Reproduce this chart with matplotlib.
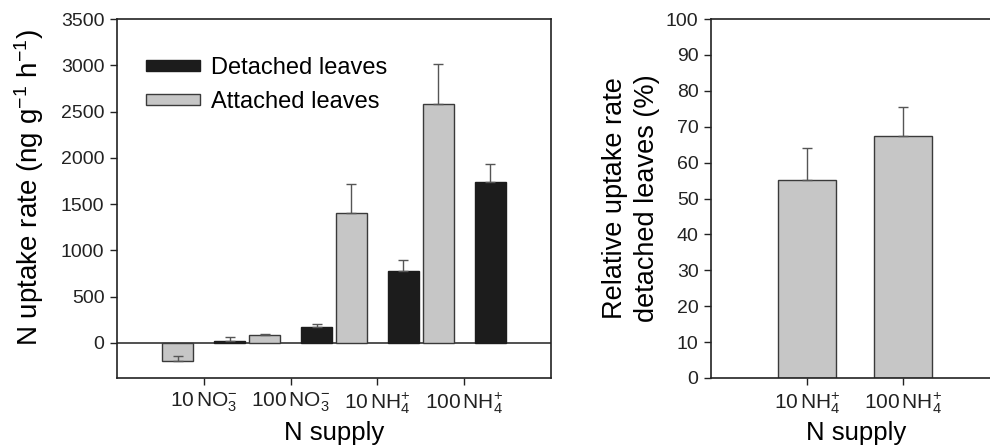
import matplotlib
matplotlib.use("Agg")
import matplotlib.pyplot as plt
from matplotlib.patches import Patch
import numpy as np

plt.rcParams['font.family'] = ['Liberation Sans', 'DejaVu Sans']
plt.rcParams['mathtext.fontset'] = 'custom'
plt.rcParams['mathtext.rm'] = 'Liberation Sans'
plt.rcParams['mathtext.it'] = 'Liberation Sans:italic'
plt.rcParams['mathtext.bf'] = 'Liberation Sans:bold'

# ---- data ----
left_categories = [r'$\mathrm{10\,NO_3^{-}}$', r'$\mathrm{100\,NO_3^{-}}$',
                   r'$\mathrm{10\,NH_4^{+}}$', r'$\mathrm{100\,NH_4^{+}}$']
detached = [25, 170, 775, 1740]
detached_err = [35, 30, 125, 195]
attached = [-200, 80, 1405, 2580]
attached_err = [55, 15, 310, 435]

right_categories = [r'$\mathrm{10\,NH_4^{+}}$', r'$\mathrm{100\,NH_4^{+}}$']
relative = [55.2, 67.5]
relative_err = [9.0, 8.0]

# ---- style ----
dark = '#1c1c1c'
grey_fill = '#c6c6c6'
edge = '#3a3a3a'
err_col = '#555555'
tick_fs = 14
label_fs = 20

W, H = 990, 445
fig = plt.figure(figsize=(W / 100, H / 100), dpi=100)

def px_axes(l, t, r, b):
    return [l / W, 1 - b / H, (r - l) / W, (b - t) / H]

def style_axes(ax):
    for s in ax.spines.values():
        s.set_linewidth(1.2)
        s.set_color('#222222')
    ax.tick_params(direction='out', length=5, width=1, colors='#222222',
                   labelsize=tick_fs, top=False, right=False, pad=4)
    ax.tick_params(axis='x', labelsize=15)

# ---- left panel ----
ax1 = fig.add_axes(px_axes(117, 19, 551, 378))
style_axes(ax1)
x = np.arange(1, len(left_categories) + 1)
bw = 0.36
ax1.axhline(0, color='#222222', lw=1.1, zorder=1)
ax1.bar(x - 0.3, attached, bw, color=grey_fill, edgecolor=edge, lw=1, zorder=2)
ax1.bar(x + 0.3, detached, bw, color=dark, edgecolor=dark, lw=1, zorder=2)
ax1.errorbar(x - 0.3, attached, yerr=[np.zeros(len(x)), attached_err], fmt='none',
             ecolor=err_col, elinewidth=1, capsize=3.6, capthick=1, zorder=3)
ax1.errorbar(x + 0.3, detached, yerr=[np.zeros(len(x)), detached_err], fmt='none',
             ecolor=err_col, elinewidth=1, capsize=3.6, capthick=1, zorder=3)
ax1.set_xlim(0, 5)
ax1.set_ylim(-380, 3500)
ax1.set_yticks(np.arange(0, 3501, 500))
ax1.set_xticks(x)
ax1.set_xticklabels(left_categories)

handles = [Patch(facecolor=dark, edgecolor=dark, label='Detached leaves'),
           Patch(facecolor=grey_fill, edgecolor=edge, label='Attached leaves')]
ax1.legend(handles=handles, loc='upper left', bbox_to_anchor=((146 - 117) / 434, (378 - 57) / 359),
           frameon=False, fontsize=17, handlelength=2.3, handleheight=0.35,
           handletextpad=0.45, labelspacing=0.5, borderpad=0, borderaxespad=0)

fig.text(29 / W, 1 - 188 / H, r'N uptake rate (ng g$^{-1}$ h$^{-1}$)', rotation=90,
         ha='center', va='center', fontsize=label_fs)
fig.text(334 / W, 1 - 440 / H, 'N supply', ha='center', va='baseline', fontsize=18.5)

# ---- right panel ----
ax2 = fig.add_axes(px_axes(711, 19, 711 + 3 * 96, 378))
style_axes(ax2)
x2 = np.arange(1, len(right_categories) + 1)
ax2.bar(x2, relative, 0.61, color=grey_fill, edgecolor=edge, lw=1, zorder=2)
ax2.errorbar(x2, relative, yerr=[np.zeros(len(x2)), relative_err], fmt='none',
             ecolor=err_col, elinewidth=1, capsize=3.6, capthick=1, zorder=3)
ax2.set_xlim(0, 3)
ax2.set_ylim(0, 100)
ax2.set_yticks(np.arange(0, 101, 10))
ax2.set_xticks(x2)
ax2.set_xticklabels(right_categories)

fig.text(856 / W, 1 - 440 / H, 'N supply', ha='center', va='baseline', fontsize=18.5)
fig.text(631 / W, 1 - 198 / H, 'Relative uptake rate\ndetached leaves (%)', rotation=90,
         ha='center', va='center', fontsize=19.5, linespacing=1.25)

fig.savefig('out.png', dpi=100)
